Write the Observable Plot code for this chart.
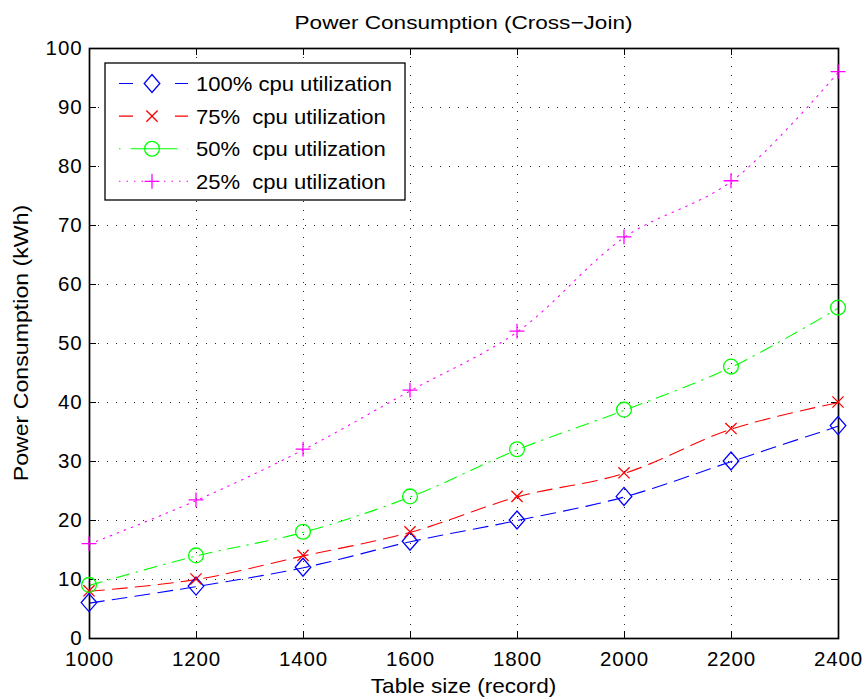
<!DOCTYPE html>
<html>
<head>
<meta charset="utf-8">
<script src="https://cdn.jsdelivr.net/npm/d3@7"></script>
<script src="https://cdn.jsdelivr.net/npm/@observablehq/plot@0.6"></script>
<style>
  body { margin: 0; background: #fff; }
</style>
</head>
<body>
<div id="chart"></div>
<script>
const tableSize = [1000, 1200, 1400, 1600, 1800, 2000, 2200, 2400];
const cpu100 = [6, 8.8, 12, 16.4, 20, 24, 30, 36];
const cpu75  = [8, 10, 14, 18, 24, 28, 35.5, 40];
const cpu50  = [9, 14, 18, 24, 32, 38.7, 46, 56];
const cpu25  = [16, 23.4, 32, 42, 52, 68, 77.5, 96];
const seriesNames = ["100% cpu utilization", "75%  cpu utilization", "50%  cpu utilization", "25%  cpu utilization"];
const xTicks = [1000, 1200, 1400, 1600, 1800, 2000, 2200, 2400];
const yTicks = [0, 10, 20, 30, 40, 50, 60, 70, 80, 90, 100];

const styles = [
  {color: "#0000ff", dash: "15,8", symbol: "diamond", legendDash: "14,42"},
  {color: "#ff0000", dash: "15,8", symbol: "times", legendDash: "14,42"},
  {color: "#00ff00", dash: "13,7,1.5,7", symbol: "circle", legendDash: "1.5,10,47,10,1.5"},
  {color: "#ff00ff", dash: "1.5,6", symbol: "plus", legendDash: "1.5,6"}
];
const allSeries = [cpu100, cpu75, cpu50, cpu25];
const data = allSeries.flatMap((vals, i) => vals.map((v, j) => ({x: tableSize[j], y: v, s: i})));

const mL = 89, mR = 27, mT = 48, mB = 62, W = 865, H = 700;
const xPerPx = 1400 / (W - mL - mR);
const yPerPx = 100 / (H - mT - mB);
const tickLen = 7;
const FONT = "Liberation Sans, Arial, sans-serif";

function markerPath(sym) {
  if (sym === "diamond") return "M0,-9L7.8,0L0,9L-7.8,0Z";
  if (sym === "times") return "M-5.6,-5.6L5.6,5.6M-5.6,5.6L5.6,-5.6";
  if (sym === "plus") return "M-7.4,0L7.4,0M0,-7.4L0,7.4";
  const r = 7.4;
  return `M${r},0A${r},${r} 0 1 1 ${-r},0A${r},${r} 0 1 1 ${r},0Z`;
}

const marks = [
  Plot.gridX(xTicks, {stroke: "#000", strokeOpacity: 0.85, strokeDasharray: "1,8", strokeWidth: 1}),
  Plot.gridY(yTicks, {stroke: "#000", strokeOpacity: 0.85, strokeDasharray: "1,8", strokeWidth: 1}),
  Plot.ruleX(xTicks, {y1: 0, y2: tickLen * yPerPx, stroke: "#000"}),
  Plot.ruleX(xTicks, {y1: 100, y2: 100 - tickLen * yPerPx, stroke: "#000"}),
  Plot.ruleY(yTicks, {x1: 1000, x2: 1000 + tickLen * xPerPx, stroke: "#000"}),
  Plot.ruleY(yTicks, {x1: 2400, x2: 2400 - tickLen * xPerPx, stroke: "#000"}),
  Plot.axisX(xTicks, {tickSize: 0, tickPadding: 13, fontSize: 20.5, label: null, fill: "#000", tickFormat: d => String(d)}),
  Plot.axisY(yTicks, {tickSize: 0, tickPadding: 7, fontSize: 20.5, label: null, fill: "#000", tickFormat: d => String(d)}),
];
styles.forEach((st, i) => {
  marks.push(Plot.line(data.filter(d => d.s === i), {x: "x", y: "y", stroke: st.color, strokeWidth: 1.1, strokeDasharray: st.dash, curve: "catmull-rom"}));
});
marks.push(Plot.frame({stroke: "#000", strokeWidth: 1.7}));

const plot = Plot.plot({
  width: W, height: H,
  marginLeft: mL, marginRight: mR, marginTop: mT, marginBottom: mB,
  x: {domain: [1000, 2400]},
  y: {domain: [0, 100]},
  style: {fontFamily: FONT, fontSize: "20.5px", color: "#000", background: "#fff", overflow: "visible", letterSpacing: "0.9px"},
  marks
});

const sx = plot.scale("x"), sy = plot.scale("y");
const svg = d3.select(plot);
const g = svg.append("g");
styles.forEach((st, i) => {
  allSeries[i].forEach((v, j) => {
    g.append("path")
      .attr("transform", `translate(${sx.apply(tableSize[j])},${sy.apply(v)})`)
      .attr("d", markerPath(st.symbol))
      .attr("fill", "none").attr("stroke", st.color).attr("stroke-width", 1.3);
  });
});

function stretchedText(parent, x, y, str, size, anchor, stretch, rotate) {
  return parent.append("text")
    .attr("transform", `translate(${x},${y})${rotate ? " rotate(-90)" : ""} scale(${stretch},1)`)
    .attr("text-anchor", anchor)
    .style("font-family", FONT).style("font-size", size + "px").style("letter-spacing", "0px")
    .style("white-space", "pre")
    .attr("fill", "#000").text(str);
}
stretchedText(svg, mL + (W - mL - mR) / 2, 29, "Power Consumption (Cross\u2212Join)", 18.5, "middle", 1.22, false);
stretchedText(svg, mL + (W - mL - mR) / 2, 693, "Table size (record)", 20.5, "middle", 1.1, false);
stretchedText(svg, 28, mT + (H - mT - mB) / 2, "Power Consumption (kWh)", 20.5, "middle", 1.13, true);

const lg = svg.append("g").attr("transform", `translate(${mL + 16},${mT + 15})`);
lg.append("rect").attr("width", 300).attr("height", 137).attr("fill", "#fff").attr("stroke", "#000").attr("stroke-width", 1.3);
styles.forEach((st, i) => {
  const yy = 20.5 + i * 32.6;
  lg.append("line").attr("x1", 14).attr("x2", 83).attr("y1", yy).attr("y2", yy)
    .attr("stroke", st.color).attr("stroke-width", 1.1)
    .attr("stroke-dasharray", st.legendDash);
  lg.append("path").attr("transform", `translate(47,${yy})`).attr("d", markerPath(st.symbol))
    .attr("fill", "none").attr("stroke", st.color).attr("stroke-width", 1.3);
  stretchedText(lg, 91, yy + 7.5, seriesNames[i], 21, "start", 1.05, false);
});

document.getElementById("chart").appendChild(plot);
</script>
</body>
</html>
